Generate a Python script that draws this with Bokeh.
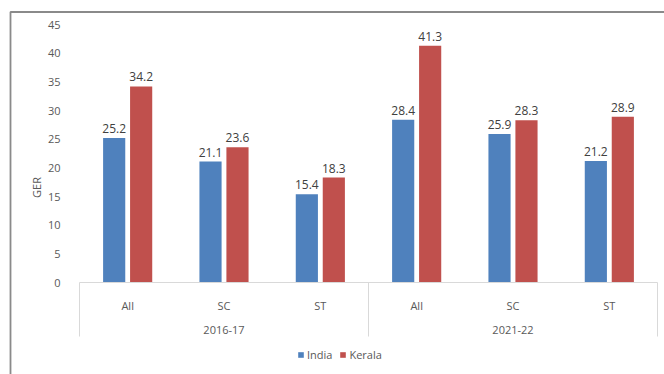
from bokeh.plotting import figure
from bokeh.models import (Range1d, FixedTicker, LinearAxis, Legend,
                          LegendItem, ColumnDataSource)
from bokeh.core.properties import value
from bokeh.embed import file_html
from bokeh.resources import INLINE

# --- data -------------------------------------------------------------
periods = ["2016-17", "2021-22"]
groups = ["All", "SC", "ST"]
india = [25.2, 21.1, 15.4, 28.4, 25.9, 21.2]
kerala = [34.2, 23.6, 18.3, 41.3, 28.3, 28.9]
y_ticks = [0, 5, 10, 15, 20, 25, 30, 35, 40, 45]
series_names = ["India", "Kerala"]

# --- layout constants (pixels) -----------------------------------------
W, H = 664, 374
X0_PX, X6_PX = 79, 657          # plot-area left/right edges
Y0_PX, Y45_PX = 282, 24         # value 0 and value 45
PXX = (X6_PX - X0_PX) / 6.0
PXY = (Y0_PX - Y45_PX) / 45.0

FONT = "Open Sans"
BLUE, RED = "#4F81BD", "#C0504D"
AXIS_GREY = "#d9d9d9"
TEXT_GREY = "#595959"

n_slots = len(periods) * len(groups)
pos = [i + 0.5 for i in range(n_slots)]
offset, bar_w = 0.14, 0.23

src = ColumnDataSource(dict(
    xi=[p - offset for p in pos],
    xk=[p + offset for p in pos],
    india=india,
    kerala=kerala,
    india_txt=[f"{v:.1f}" for v in india],
    kerala_txt=[f"{v:.1f}" for v in kerala],
))

def px_x(px):
    return (px - X0_PX) / PXX

def px_y(px):
    return (Y0_PX - px) / PXY

# the frame spans the whole canvas; everything is placed in data space
x_range = Range1d(px_x(0), px_x(W))
y_range = Range1d(px_y(H), px_y(0))

p = figure(width=W, height=H, x_range=x_range, y_range=y_range,
           output_backend="svg", toolbar_location=None,
           min_border_left=0, min_border_top=0,
           min_border_right=0, min_border_bottom=0)
p.title_location = None
p.outline_line_color = None
p.grid.visible = False
p.background_fill_color = "white"
p.border_fill_color = "white"

# chart border: left edge and top edge
p.line(x=[px_x(10), px_x(10), px_x(W)], y=[px_y(H), px_y(11.5), px_y(11.5)],
       line_color="#8a8a8a", line_width=1.8)

# bars
r_india = p.vbar(x="xi", top="india", width=bar_w, source=src,
                 fill_color=BLUE, line_color=None)
r_kerala = p.vbar(x="xk", top="kerala", width=bar_w, source=src,
                  fill_color=RED, line_color=None)

# value labels
for xcol, tcol, ycol in (("xi", "india_txt", "india"), ("xk", "kerala_txt", "kerala")):
    p.text(x=xcol, y=ycol, text=tcol, source=src, y_offset=-5,
           text_align="center", text_baseline="bottom",
           text_font=value(FONT), text_font_size="12px", text_color="#404040")

# category axis (fixed at zero)
xa = p.xaxis[0]
xa.fixed_location = 0
xa.bounds = (0, n_slots)
xa.ticker = FixedTicker(ticks=pos)
xa.major_label_overrides = {p_: groups[i % len(groups)] for i, p_ in enumerate(pos)}
xa.axis_line_color = AXIS_GREY
xa.major_tick_line_color = None
xa.minor_tick_line_color = None
xa.major_label_standoff = 9
xa.major_label_text_font = FONT
xa.major_label_text_font_size = "11px"
xa.major_label_text_color = TEXT_GREY

# period axis
centers = [len(groups) * (j + 0.5) for j in range(len(periods))]
pa = LinearAxis(fixed_location=0, ticker=FixedTicker(ticks=centers),
                major_label_overrides={c: periods[j] for j, c in enumerate(centers)},
                axis_line_color=None, major_tick_line_color=None,
                minor_tick_line_color=None, major_label_standoff=37,
                major_label_text_font=FONT, major_label_text_font_size="11px",
                major_label_text_color=TEXT_GREY)
p.add_layout(pa, "below")

# group separators below the category axis
sep_x = [len(groups) * j for j in range(len(periods) + 1)]
p.segment(x0=sep_x, y0=[0] * len(sep_x), x1=sep_x,
          y1=[px_y(336)] * len(sep_x),
          line_color=AXIS_GREY, line_width=1)

# value axis
ya = p.yaxis[0]
ya.fixed_location = 0
ya.ticker = FixedTicker(ticks=y_ticks)
ya.axis_line_color = None
ya.major_tick_line_color = None
ya.minor_tick_line_color = None
ya.major_label_standoff = 13
ya.major_label_text_font = FONT
ya.major_label_text_font_size = "11px"
ya.major_label_text_color = TEXT_GREY
ya.axis_label = "GER"
ya.axis_label_standoff = 1
ya.axis_label_text_font = FONT
ya.axis_label_text_font_size = "11px"
ya.axis_label_text_font_style = "normal"
ya.axis_label_text_color = TEXT_GREY

legend = Legend(items=[LegendItem(label=series_names[0], renderers=[r_india]),
                       LegendItem(label=series_names[1], renderers=[r_kerala])],
                orientation="horizontal", location=(297, 12),
                glyph_width=7, glyph_height=7, label_standoff=3, spacing=7,
                padding=0, margin=0, label_height=12,
                label_text_font=FONT, label_text_font_size="11px",
                label_text_color=TEXT_GREY,
                border_line_color=None, background_fill_alpha=0)
p.add_layout(legend)

open("out.html", "w").write(file_html(p, INLINE))
